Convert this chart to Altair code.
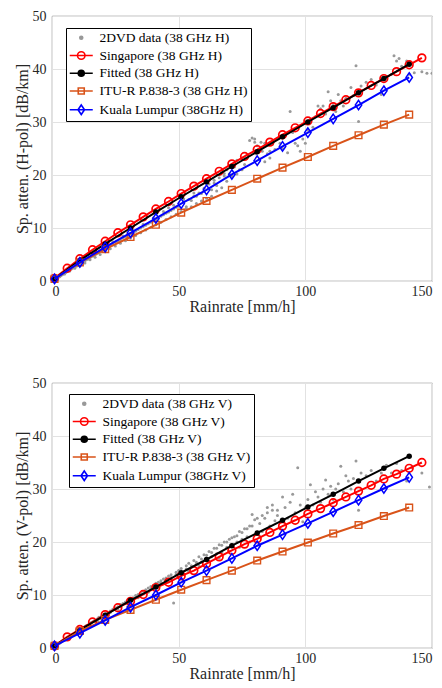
import altair as alt
import pandas as pd

FONT = "Liberation Serif"

# ---------------- data ----------------
rain_sg = [1, 6, 11, 16, 21, 26, 31, 36, 41, 46, 51, 56, 61, 66, 71, 76, 81, 86, 91, 96,
           101, 106, 111, 116, 121, 126, 131, 136, 141, 146]
rain_10 = [1, 11, 21, 31, 41, 51, 61, 71, 81, 91, 101, 111, 121, 131, 141]

# H polarisation
h_sg = [0.5, 2.4, 4.2, 5.9, 7.5, 9.1, 10.6, 12.1, 13.6, 15.0, 16.5, 17.9, 19.3, 20.7, 22.1,
        23.5, 24.8, 26.2, 27.6, 28.9, 30.2, 31.6, 32.9, 34.2, 35.5, 36.9, 38.2, 39.5, 40.8, 42.1]
h_fit = [0.4, 3.9, 7.0, 10.0, 13.0, 15.9, 18.7, 21.6, 24.4, 27.2, 30.0, 32.7, 35.5, 38.2, 40.9]
h_itu = [0.4, 3.5, 6.0, 8.3, 10.6, 12.9, 15.1, 17.2, 19.3, 21.4, 23.4, 25.5, 27.5, 29.5, 31.4]
h_kl = [0.4, 3.5, 6.4, 9.1, 11.8, 14.6, 17.2, 20.1, 22.7, 25.4, 28.0, 30.6, 33.2, 35.9, 38.4]

# V polarisation
v_sg = [0.4, 2.1, 3.5, 4.9, 6.3, 7.6, 8.8, 10.1, 11.4, 12.4, 13.6, 14.6, 15.9, 17.2, 18.4,
        19.6, 20.6, 21.8, 23.0, 24.1, 25.3, 26.3, 27.4, 28.5, 29.6, 30.7, 31.9, 32.8, 33.9, 35.0]
v_fit = [0.4, 3.4, 6.2, 9.0, 11.5, 14.2, 16.7, 19.3, 21.7, 24.1, 26.6, 29.0, 31.5, 33.9, 36.2]
v_itu = [0.4, 3.2, 5.3, 7.2, 9.1, 11.0, 12.8, 14.6, 16.5, 18.2, 19.9, 21.6, 23.2, 24.9, 26.5]
v_kl = [0.4, 2.8, 5.2, 7.7, 10.0, 12.4, 14.6, 16.9, 19.3, 21.4, 23.5, 25.7, 27.9, 30.1, 32.2]

# 2DVD scatter, H
h_dvd_r = [0.5, 1, 1.5, 2, 2.5, 3, 3.5, 4, 4.5, 5, 5.5, 6, 6.5, 7, 7.5, 8, 8.5, 9, 9.5, 10,
           10.5, 11, 11.5, 12, 12.5, 13, 13.5, 14, 14.5, 15, 15.5, 16, 16.5, 17, 17.5, 18, 18.5,
           19, 19.5, 20, 21, 22, 22.5, 23, 24, 25, 26, 27, 28, 29, 30, 31, 32, 33, 34, 35, 36,
           37, 38, 39, 40, 41, 42, 43, 44, 45, 46, 47, 48, 49, 50, 52, 53, 54, 55, 56, 57, 58,
           59, 60, 62, 63, 64, 65, 66, 67, 68, 69, 70, 72, 73, 74, 75, 76, 77, 78, 79, 80, 80.5,
           81, 82, 82.5, 83, 84, 85, 86, 87, 88, 90, 91, 92, 93, 94, 95, 96, 97, 98, 99, 100,
           101, 102, 103, 104, 105, 106, 107, 108, 109, 110, 111, 112, 113, 114, 115, 116, 118,
           119, 120, 121, 122, 124, 126, 128, 130, 132, 134, 135, 136, 137, 138, 140, 141, 143,
           146, 148, 150,
           3, 5, 7, 9, 11, 13, 15, 17, 19, 21, 23, 25, 27, 29, 31, 33, 35, 37, 39, 41, 43, 45,
           47, 49, 51, 53, 55, 57, 59, 61, 63, 65, 67, 69, 71, 73, 75,
           8, 12, 16, 20, 24, 28, 32, 36, 40, 44, 46, 48, 52, 56, 60, 64, 68, 72, 76, 80, 84, 86]
h_dvd_a = [0.2, 0.3, 0.5, 0.6, 0.8, 0.9, 1.0, 1.2, 1.3, 1.5, 1.6, 1.8, 1.9, 2.1, 2.2, 2.4, 2.5,
           2.7, 2.8, 2.9, 3.1, 3.2, 3.4, 3.5, 3.7, 3.8, 4.0, 4.1, 4.2, 4.4, 4.6, 4.7, 4.8, 5.0,
           5.1, 5.3, 5.4, 5.6, 5.7, 5.8, 6.1, 6.4, 6.6, 6.7, 7.0, 7.3, 7.5, 7.8, 8.1, 8.3, 8.6,
           8.9, 9.2, 9.4, 9.7, 10.0, 10.3, 10.5, 10.8, 11.1, 11.4, 11.6, 11.9, 12.2, 12.5, 12.8,
           13.0, 13.3, 13.6, 13.9, 14.1, 15.0, 14.0, 15.4, 15.2, 16.0, 16.0, 16.6, 16.5, 17.0,
           18.3, 17.2, 19.0, 18.0, 19.5, 20.5, 19.8, 21.0, 20.2, 21.5, 22.8, 21.0, 23.2, 22.0,
           23.8, 26.5, 27.0, 26.8, 24.0, 25.5, 23.0, 26.2, 24.5, 22.5, 24.0, 23.2, 25.8, 24.8,
           26.0, 25.0, 27.5, 24.2, 32.0, 28.0, 26.0, 25.5, 24.5, 26.8, 26.0, 28.5, 30.5, 29.0,
           31.0, 33.0, 32.5, 33.0, 31.5, 35.7, 34.0, 33.5, 32.0, 35.2, 34.0, 33.0, 34.5, 36.5,
           35.0, 40.6, 30.1, 36.8, 37.5, 38.0, 37.0, 35.2, 38.5, 39.0, 42.5, 41.5, 42.0, 40.5,
           41.5, 39.0, 39.3, 39.5, 39.2, 39.2,
           0.8, 1.3, 1.9, 2.4, 2.9, 3.4, 4.0, 4.5, 5.0, 5.5, 6.1, 6.6, 7.1, 7.6, 8.1, 8.6, 9.1,
           9.6, 10.1, 10.6, 11.1, 11.6, 12.1, 12.6, 13.1, 13.7, 14.0, 14.6, 15.1, 15.6, 16.0,
           17.0, 17.6, 18.8, 19.8, 20.2, 21.0,
           2.6, 3.8, 5.0, 6.3, 7.4, 8.5, 9.6, 10.7, 11.9, 13.1, 13.8, 14.3, 15.5, 16.6, 17.5,
           18.5, 20.3, 22.0, 23.2, 26.2, 26.0, 24.5]

# 2DVD scatter, V
v_dvd_r = [0.5, 1, 1.5, 2, 2.5, 3, 3.5, 4, 4.5, 5, 5.5, 6, 6.5, 7, 7.5, 8, 8.5, 9, 9.5, 10,
           10.5, 11, 11.5, 12, 12.5, 13, 13.5, 14, 14.5, 15, 15.5, 16, 16.5, 17, 17.5, 18, 18.5,
           19, 19.5, 20, 21, 22, 23, 24, 25, 26, 27, 28, 29, 30, 31, 32, 33, 34, 35, 36, 37, 38,
           39, 40, 41, 42, 43, 44, 45, 46, 47, 48, 49, 50, 51, 52, 53, 54, 55, 56, 57, 58, 59,
           60, 61, 62, 63, 64, 65, 66, 67, 68, 69, 70, 71, 72, 73, 74, 75, 76, 77, 78, 79, 80,
           81, 82, 83, 84, 85, 86, 87, 88, 89, 90, 91, 92, 93, 94, 95, 96, 97, 98, 99, 100, 101,
           102, 103, 104, 105, 106, 107, 108, 109, 110, 111, 112, 113, 114, 115, 116, 117, 118,
           119, 120, 121, 122, 124, 126, 128, 130, 132, 134, 136, 138, 140, 142, 146, 149,
           3, 5, 7, 9, 11, 13, 15, 17, 19, 21, 23, 25, 27, 29, 31, 33, 35, 37, 39, 41, 43, 45,
           47, 49, 51, 53, 55, 57, 59, 61, 63, 65, 67, 69, 71, 73, 75, 77, 79, 81, 83, 85, 87, 89,
           10, 14, 18, 22, 26, 30, 34, 38, 42, 46, 50, 54, 58, 62, 66, 70, 74, 78, 82]
v_dvd_a = [0.2, 0.4, 0.5, 0.7, 0.8, 1.0, 1.1, 1.3, 1.4, 1.6, 1.7, 1.9, 2.0, 2.2, 2.3, 2.5, 2.6,
           2.8, 2.9, 3.0, 3.3, 3.2, 3.5, 3.7, 3.8, 4.0, 4.2, 4.3, 4.4, 4.6, 4.8, 4.9, 5.1, 5.2,
           5.3, 5.5, 5.8, 5.8, 6.0, 6.0, 6.4, 6.6, 7.0, 7.3, 7.6, 7.8, 8.2, 8.4, 8.7, 9.0, 9.3,
           9.5, 9.9, 10.1, 10.4, 10.7, 11.0, 11.3, 11.6, 11.8, 12.2, 12.4, 12.7, 13.0, 13.2, 13.6,
           13.8, 8.5, 14.3, 14.6, 15.0, 14.0, 15.5, 16.0, 15.2, 16.5, 15.8, 17.2, 16.2, 17.6,
           16.8, 18.2, 17.2, 18.8, 17.8, 19.5, 18.0, 20.0, 19.0, 20.5, 19.5, 21.0, 20.0, 22.0,
           20.5, 22.5, 21.0, 23.0, 25.2, 24.2, 21.5, 23.5, 22.0, 24.5, 25.5, 23.0, 26.0, 24.0,
           25.0, 22.5, 28.5, 26.5, 24.5, 27.5, 29.0, 25.5, 34.0, 27.0, 23.8, 26.5, 28.0, 30.8,
           27.0, 29.5, 28.5, 27.5, 30.0, 31.7, 29.0, 30.5, 28.0, 30.0, 31.0, 34.3, 29.5, 32.5,
           31.5, 30.0, 32.0, 35.3, 26.0, 33.0, 32.5, 33.5, 31.5, 33.0, 34.5, 33.0, 34.8, 33.5,
           31.5, 34.0, 33.0, 30.4,
           0.9, 1.5, 2.1, 2.7, 3.4, 3.9, 4.4, 5.0, 5.5, 6.1, 6.7, 7.3, 7.8, 8.4, 9.0, 9.5, 10.0,
           10.6, 11.1, 11.7, 12.2, 12.8, 13.3, 13.9, 14.3, 14.9, 15.5, 16.2, 16.8, 17.5, 18.0,
           18.8, 19.4, 20.0, 20.8, 21.2, 21.8, 22.5, 23.0, 24.5, 25.0, 26.5, 27.0, 26.0,
           2.6, 3.9, 5.1, 6.2, 7.3, 8.4, 9.5, 10.5, 11.5, 12.5, 13.5, 14.5, 15.5, 16.4, 17.0,
           18.2, 19.0, 20.0, 21.0]

x_ticks = [0, 50, 100, 150]
y_ticks = [0, 10, 20, 30, 40, 50]

C_DVD = "#999999"
C_SG = "#ff0000"
C_FIT = "#000000"
C_ITU = "#d95319"
C_KL = "#0000ff"

DIAMOND = "M0,-1L0.68,0L0,1L-0.68,0Z"

# legend symbol paths (line + marker)
P_DVD = "M1.4,0A0.3,0.3 0 1 1 0.8,0A0.3,0.3 0 1 1 1.4,0Z"
P_SG = "M-1.2,0H3.4M1.85,0A0.75,0.75 0 1 1 0.35,0A0.75,0.75 0 1 1 1.85,0Z"
P_FIT = "M-1.2,0H3.4M1.7,0A0.6,0.6 0 1 1 0.5,0A0.6,0.6 0 1 1 1.7,0Z"
P_ITU = "M-1.2,0H3.4M0.5,-0.6H1.7V0.6H0.5Z"
P_KL = "M-1.2,0H3.4M1.1,-0.95L1.75,0L1.1,0.95L0.45,0Z"

AX_STYLE = dict(
    domain=False, ticks=False, grid=True, gridColor="#e2e2e2", gridWidth=1,
    labelFont=FONT, labelFontSize=14, labelColor="#262626",
    titleFont=FONT, titleFontSize=16, titleFontWeight="normal", titleColor="#262626",
    format="d",
)


def panel(pol, sg, fit, itu, kl, dr, da, lx, ly):
    tag = f"38 GHz {pol}"
    names = [f"2DVD data ({tag})", f"Singapore ({tag})", f"Fitted ({tag})",
             f"ITU-R P.838-3 ({tag})", f"Kuala Lumpur (38GHz {pol})"]
    xs = alt.Scale(domain=[0, 150], nice=False, zero=False)
    ys = alt.Scale(domain=[0, 50], nice=False, zero=False)
    xax = alt.Axis(values=x_ticks, title="Rainrate [mm/h]", labelPadding=3, titlePadding=0,
                   labelFlush=3, **AX_STYLE)
    yax = alt.Axis(values=y_ticks, title=f"Sp. atten. ({pol}-pol) [dB/km]", labelPadding=6,
                   titlePadding=2, labelFlush=False, **AX_STYLE)
    X = alt.X("r:Q", scale=xs, axis=xax)
    Y = alt.Y("a:Q", scale=ys, axis=yax)

    layers = [
        alt.Chart(pd.DataFrame({"r": dr, "a": da}))
        .mark_circle(size=9, color=C_DVD, opacity=1, clip=True)
        .encode(x=X, y=Y)
    ]
    specs = [
        (rain_sg, sg, C_SG, "circle", 58, False, 1.7),
        (rain_10, fit, C_FIT, "circle", 30, True, 1.2),
        (rain_10, itu, C_ITU, "square", 45, False, 1.4),
        (rain_10, kl, C_KL, DIAMOND, 90, False, 1.5),
    ]
    for rr, vals, col, shp, sz, filled, sw in specs:
        base = alt.Chart(pd.DataFrame({"r": rr, "a": vals})).encode(x=X, y=Y)
        layers.append(base.mark_line(color=col, strokeWidth=2))
        layers.append(base.mark_point(shape=shp, size=sz, color=col, filled=filled,
                                      strokeWidth=sw, opacity=1))

    leg = alt.Legend(title=None, orient="none", legendX=lx, legendY=ly,
                     fillColor="white", strokeColor="black", padding=3,
                     rowPadding=2.75, symbolSize=100, symbolStrokeWidth=1.6,
                     labelOffset=17, labelFont=FONT, labelFontSize=13.5,
                     labelColor="black", symbolOpacity=1, labelLimit=300)
    leg_df = pd.DataFrame({"r": [-60] * 5, "a": [10] * 5, "s": names})
    legend_layer = alt.Chart(leg_df).mark_point(clip=True, opacity=1, strokeWidth=1.6).encode(
        x=X, y=Y,
        shape=alt.Shape("s:N", scale=alt.Scale(domain=names,
                                               range=[P_DVD, P_SG, P_FIT, P_ITU, P_KL]), legend=leg),
        stroke=alt.Stroke("s:N", scale=alt.Scale(domain=names,
                                                 range=[C_DVD, C_SG, C_FIT, C_ITU, C_KL]), legend=leg),
        fill=alt.Fill("s:N", scale=alt.Scale(domain=names,
                                             range=[C_DVD, "transparent", C_FIT, "transparent",
                                                    "transparent"]), legend=leg),
    )
    layers.append(legend_layer)
    return alt.layer(*layers).properties(width=380, height=265)


top = panel("H", h_sg, h_fit, h_itu, h_kl, h_dvd_r, h_dvd_a, 14, 12)
bottom = panel("V", v_sg, v_fit, v_itu, v_kl, v_dvd_r, v_dvd_a, 17, 11)

chart = (
    alt.vconcat(top, bottom, spacing=60)
    .resolve_scale(shape="independent", stroke="independent", fill="independent")
    .resolve_legend(shape="independent", stroke="independent", fill="independent")
    .properties(padding={"left": 5, "top": 0, "right": 0, "bottom": 0})
    .configure_view(stroke="#404040", strokeWidth=0.8)
)

chart.save("out.html", embed_options={"renderer": "svg", "actions": False})
